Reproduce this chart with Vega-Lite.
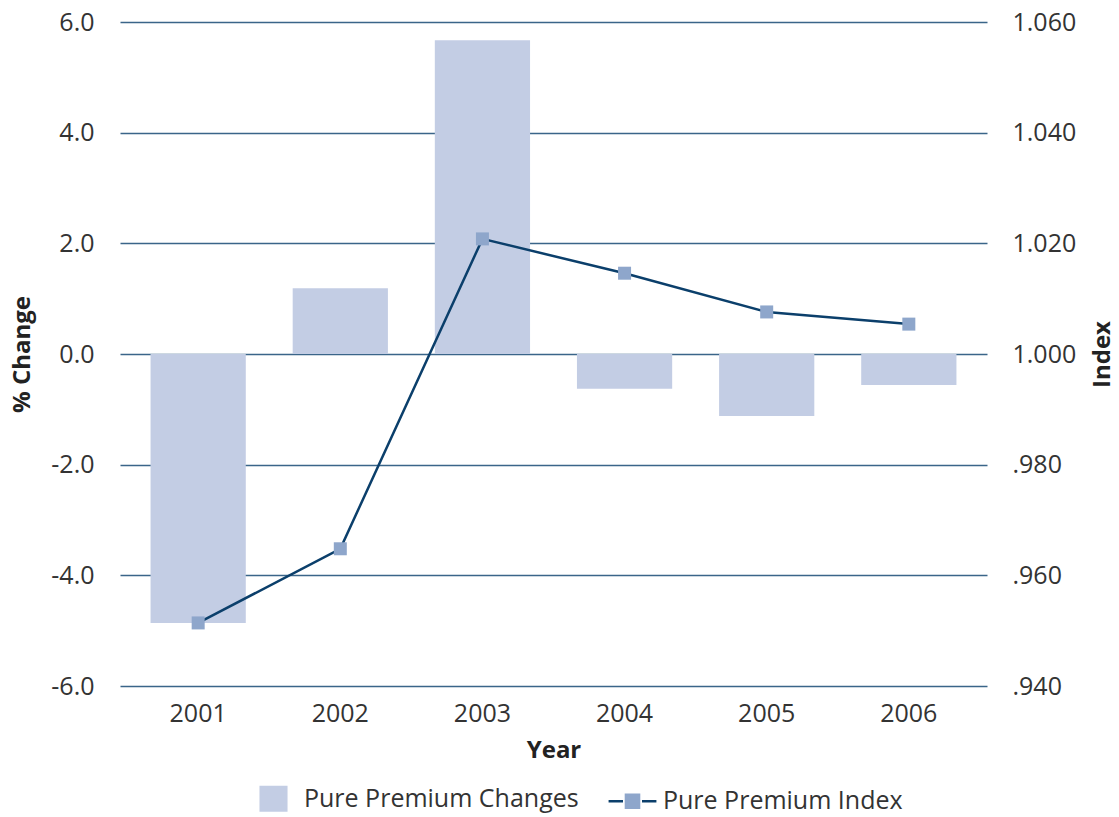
{
  "$schema": "https://vega.github.io/schema/vega-lite/v6.json",
  "width": 867,
  "height": 664,
  "autosize": "none",
  "padding": {"left": 120, "top": 22, "right": 132, "bottom": 131},
  "config": {
    "font": "Open Sans",
    "view": {"stroke": null},
    "axis": {
      "labelFont": "Open Sans",
      "labelFontSize": 25,
      "labelColor": "#333333",
      "titleFont": "Open Sans",
      "titleFontSize": 24,
      "titleFontWeight": "bold",
      "titleColor": "#222222",
      "domain": false,
      "ticks": false
    },
    "legend": {
      "labelFont": "Open Sans",
      "labelFontSize": 25,
      "labelColor": "#333333",
      "labelLimit": 500
    }
  },
  "data": {
    "values": [
      {"Year": "2001", "Change": -4.86, "Index": 0.9514},
      {"Year": "2002", "Change": 1.19, "Index": 0.9648},
      {"Year": "2003", "Change": 5.67, "Index": 1.0208},
      {"Year": "2004", "Change": -0.63, "Index": 1.0146},
      {"Year": "2005", "Change": -1.12, "Index": 1.0076},
      {"Year": "2006", "Change": -0.56, "Index": 1.0054}
    ]
  },
  "encoding": {
    "x": {
      "field": "Year",
      "type": "ordinal",
      "scale": {"paddingInner": 0.33, "paddingOuter": 0.215},
      "axis": {"labelAngle": 0, "labelPadding": 15, "titlePadding": 12, "title": "Year"}
    }
  },
  "layer": [
    {
      "mark": {"type": "bar"},
      "encoding": {
        "y": {
          "field": "Change",
          "type": "quantitative",
          "scale": {"domain": [-6, 6], "nice": false},
          "axis": {
            "title": "% Change",
            "values": [-6, -4, -2, 0, 2, 4, 6],
            "labelExpr": "datum.value < 0 ? '-' + format(-datum.value, '.1f') : format(datum.value, '.1f')",
            "grid": true,
            "gridColor": "#3a6589",
            "gridWidth": 1.5,
            "labelPadding": 26,
            "titlePadding": 16
          }
        },
        "color": {
          "datum": "Pure Premium Changes",
          "type": "nominal",
          "scale": {"domain": ["Pure Premium Changes", "Pure Premium Index"], "range": ["#c3cde4", "#8ea6cb"]},
          "legend": {
            "orient": "none",
            "legendX": 126,
            "legendY": 749,
            "direction": "horizontal",
            "title": null,
            "symbolSize": 2704,
            "columnPadding": 24,
            "labelOffset": 3,
            "encode": {
              "symbols": {
                "update": {
                  "shape": {"signal": "datum.value === 'Pure Premium Index' ? 'M-0.92,0H-0.3M0.3,0H0.92M-0.3,-0.3H0.3V0.3H-0.3Z' : 'M-0.54,-0.5H0.54V0.5H-0.54Z'"},
                  "stroke": {"signal": "datum.value === 'Pure Premium Index' ? {gradient: 'linear', x1: 0, y1: 0, x2: 1, y2: 0, stops: [{offset: 0, color: '#0b3f6b'}, {offset: 0.31, color: '#0b3f6b'}, {offset: 0.31, color: 'rgba(0,0,0,0)'}, {offset: 0.69, color: 'rgba(0,0,0,0)'}, {offset: 0.69, color: '#0b3f6b'}, {offset: 1, color: '#0b3f6b'}]} : 'rgba(0,0,0,0)'"},
                  "strokeWidth": {"value": 2.5},
                  "opacity": {"value": 1}
                }
              }
            }
          }
        }
      }
    },
    {
      "mark": {"type": "line", "strokeWidth": 2.5, "color": "#0b3f6b"},
      "encoding": {
        "y": {
          "field": "Index",
          "type": "quantitative",
          "scale": {"domain": [0.94, 1.06], "nice": false, "zero": false},
          "axis": {
            "orient": "right",
            "title": "Index",
            "titleAngle": 270,
            "values": [0.94, 0.96, 0.98, 1.0, 1.02, 1.04, 1.06],
            "labelExpr": "datum.value < 0.999 ? substring(format(datum.value, '.3f'), 1) : format(datum.value, '.3f')",
            "grid": false,
            "labelPadding": 25,
            "titlePadding": 39
          }
        }
      }
    },
    {
      "mark": {"type": "point", "shape": "square", "size": 169, "filled": true, "color": "#8ea6cb", "opacity": 1},
      "encoding": {
        "y": {"field": "Index", "type": "quantitative", "scale": {"domain": [0.94, 1.06], "nice": false, "zero": false}, "axis": null}
      }
    }
  ],
  "resolve": {"scale": {"y": "independent"}}
}
